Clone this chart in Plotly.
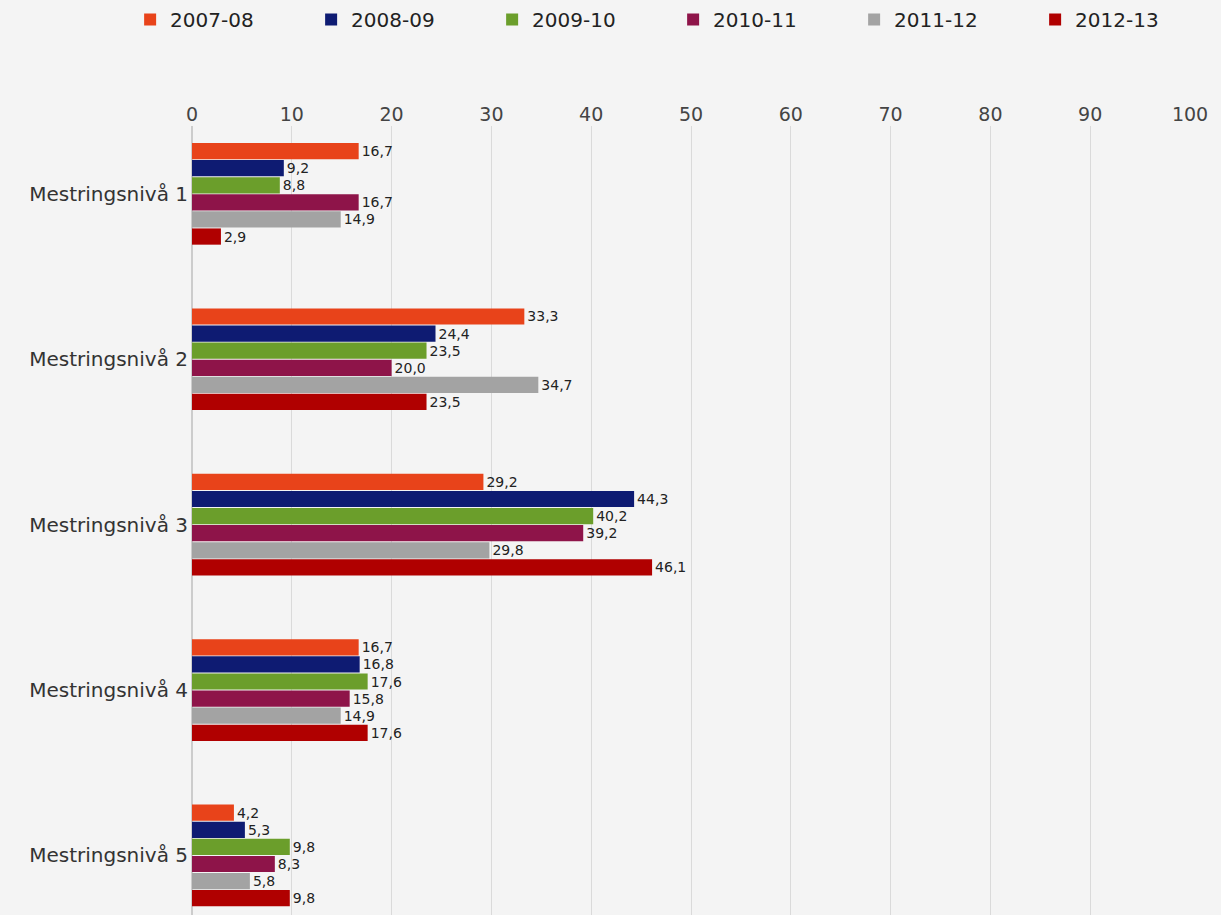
import plotly.graph_objects as go

categories = ["Mestringsnivå 1", "Mestringsnivå 2", "Mestringsnivå 3", "Mestringsnivå 4", "Mestringsnivå 5"]
series_names = ["2007-08", "2008-09", "2009-10", "2010-11", "2011-12", "2012-13"]
v_2007_08 = [16.7, 33.3, 29.2, 16.7, 4.2]
v_2008_09 = [9.2, 24.4, 44.3, 16.8, 5.3]
v_2009_10 = [8.8, 23.5, 40.2, 17.6, 9.8]
v_2010_11 = [16.7, 20.0, 39.2, 15.8, 8.3]
v_2011_12 = [14.9, 34.7, 29.8, 14.9, 5.8]
v_2012_13 = [2.9, 23.5, 46.1, 17.6, 9.8]
series_values = [v_2007_08, v_2008_09, v_2009_10, v_2010_11, v_2011_12, v_2012_13]
colors = ["#E8431A", "#0E1B72", "#6B9E2B", "#8E1449", "#A3A3A3", "#B00000"]
x_ticks = [0, 10, 20, 30, 40, 50, 60, 70, 80, 90, 100]

fig = go.Figure()
for name, vals, col in zip(series_names, series_values, colors):
    fig.add_trace(go.Bar(
        y=categories, x=vals, name=name, orientation="h",
        marker=dict(color=col, line=dict(width=0)),
        text=[f"{v:.1f}".replace(".", ",") for v in vals],
        textposition="outside", cliponaxis=False,
        textfont=dict(size=14, color="#222222", family="DejaVu Sans"),
    ))

fig.update_layout(
    width=1221, height=915,
    barmode="group", bargap=0.38, bargroupgap=0.05,
    paper_bgcolor="#F4F4F4", plot_bgcolor="#F4F4F4",
    margin=dict(l=192, r=31, t=125, b=0),
    font=dict(family="DejaVu Sans", color="#444444"),
    legend=dict(orientation="h", xref="paper", yref="paper",
                x=-0.062, y=1.16, xanchor="left", yanchor="top",
                font=dict(size=20, color="#222222"),
                entrywidth=136, entrywidthmode="pixels",
                traceorder="normal"),
    xaxis=dict(side="top", range=[0, 100], tickvals=x_ticks,
               tickfont=dict(size=19, color="#444444"),
               showgrid=True, gridcolor="#DADADA", zeroline=True,
               zerolinecolor="#CCCCCC", showline=False, fixedrange=True),
    yaxis=dict(type="category", range=[4.36, -0.41],
               tickfont=dict(size=20, color="#333333"),
               ticklabelstandoff=3,
               showgrid=False, ticks="", ticklen=0),
)

fig.write_html("out.html", config={"displayModeBar": False},
               post_script="document.body.style.margin='0';")
